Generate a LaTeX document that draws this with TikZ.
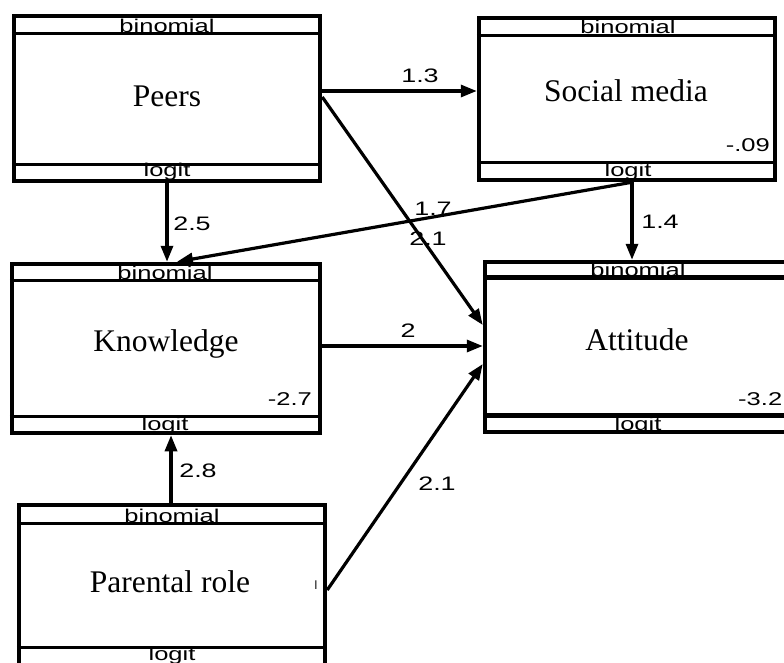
\documentclass[tikz,border=0pt]{standalone}
\usepackage{fontspec}
\setmainfont{Liberation Serif}
\newfontfamily\labfont{Liberation Sans}
\usetikzlibrary{arrows.meta}
\newcommand\sxlab[1]{\scalebox{1.38}[1]{#1}}
\tikzset{
  vbox/.style={draw, line width=4.5pt, inner sep=0pt},
  divider/.style={line width=3pt},
  thickdiv/.style={line width=5pt},
  small/.style={font=\labfont\fontsize{18.5}{20}\selectfont, inner sep=0pt, anchor=base},
  title/.style={font=\fontsize{31.5}{36}\selectfont, inner sep=0pt, anchor=base},
  arr/.style={line width=3.2pt, -{Triangle[length=16pt,width=12pt]}},
  elab/.style={font=\labfont\fontsize{19.5}{21}\selectfont, inner sep=0pt, anchor=base}
}
\begin{document}
\begin{tikzpicture}[x=1pt,y=-1pt]
\useasboundingbox (0,0) rectangle (784,663);
% boxes
\node[vbox, minimum width=306pt, minimum height=165pt] (peers) at (167,98.5) {};
\node[vbox, minimum width=296pt, minimum height=162pt] (social) at (627,99) {};
\node[vbox, minimum width=308pt, minimum height=169pt] (know) at (166,348.5) {};
\node[vbox, minimum width=335pt, minimum height=170pt] (att) at (652.5,347) {};
\node[vbox, minimum width=306pt, minimum height=175pt] (par) at (172,592.5) {};
% dividers
\draw[divider] ([yshift=-20pt]peers.north west) -- ([yshift=-20pt]peers.north east);
\draw[divider] ([yshift=19pt]peers.south west) -- ([yshift=19pt]peers.south east);
\draw[divider] ([yshift=-20pt]social.north west) -- ([yshift=-20pt]social.north east);
\draw[divider] ([yshift=20pt]social.south west) -- ([yshift=20pt]social.south east);
\draw[divider] ([yshift=-19pt]know.north west) -- ([yshift=-19pt]know.north east);
\draw[divider] ([yshift=19pt]know.south west) -- ([yshift=19pt]know.south east);
\draw[thickdiv] ([yshift=-18pt]att.north west) -- ([yshift=-18pt]att.north east);
\draw[thickdiv] ([yshift=19pt]att.south west) -- ([yshift=19pt]att.south east);
\draw[divider] ([yshift=-21pt]par.north west) -- ([yshift=-21pt]par.north east);
\draw[divider] ([yshift=34.5pt]par.south west) -- ([yshift=34.5pt]par.south east);
% header / footer texts
\node[small] (peersB) at (167,33) {\sxlab{binomial}};
\node[small] (peersL) at (167,177) {\sxlab{logit}};
\node[small] (socialB) at (628,34) {\sxlab{binomial}};
\node[small] (socialL) at (628,177) {\sxlab{logit}};
\node[small] (knowB) at (165,279) {\sxlab{binomial}};
\node[small] (knowL) at (165,430) {\sxlab{logit}};
\node[small] (attB) at (638,276) {\sxlab{binomial}};
\node[small] (attL) at (638,430) {\sxlab{logit}};
\node[small] (parB) at (172,522) {\sxlab{binomial}};
\node[small] (parL) at (172,660) {\sxlab{logit}};
% titles
\node[title] (peersT) at (167,107) {Peers};
\node[title] (socialT) at (626,102) {Social media};
\node[title] (knowT) at (166,351) {Knowledge};
\node[title] (attT) at (637,350) {Attitude};
\node[title] (parT) at (170,592) {Parental role};
% thresholds
\node[small, anchor=base east] (socialN) at (770,152) {\sxlab{-.09}};
\node[small, anchor=base east] (knowN) at (312,405) {\sxlab{-2.7}};
\node[small, anchor=base west] (attN) at (738,405) {\sxlab{-3.2}};
\node[font=\labfont\fontsize{12}{13}\selectfont, inner sep=0pt] (tick) at (316,585) {l};
% connectors
\draw[arr] ([yshift=7.5pt]peers.east) -- ([yshift=8pt]social.west);
\draw[arr] ([yshift=1.5pt]peers.east) -- ([yshift=22pt]att.west);
\draw[arr] (peers.south) -- (peers.south |- know.north);
\draw[arr] ([xshift=5pt]social.south) -- ([xshift=11pt]know.north);
\draw[arr] ([xshift=5pt]social.south) -- ([xshift=-20.5pt]att.north);
\draw[arr] ([yshift=2.5pt]know.east) -- ([yshift=1pt]att.west);
\draw[arr] ([xshift=-1pt]par.north) -- ([xshift=5pt]know.south);
\draw[arr] ([yshift=2.5pt]par.east) -- ([yshift=-17pt]att.west);
% edge labels
\node[elab] (l13) at (420,83) {\sxlab{1.3}};
\node[elab] (l25) at (192,230) {\sxlab{2.5}};
\node[elab] (l17) at (433,215) {\sxlab{1.7}};
\node[elab] (l21a) at (428,245) {\sxlab{2.1}};
\node[elab] (l14) at (660,228) {\sxlab{1.4}};
\node[elab] (l2) at (408,337) {\sxlab{2}};
\node[elab] (l28) at (198,477) {\sxlab{2.8}};
\node[elab] (l21b) at (437,490) {\sxlab{2.1}};
\end{tikzpicture}
\end{document}
